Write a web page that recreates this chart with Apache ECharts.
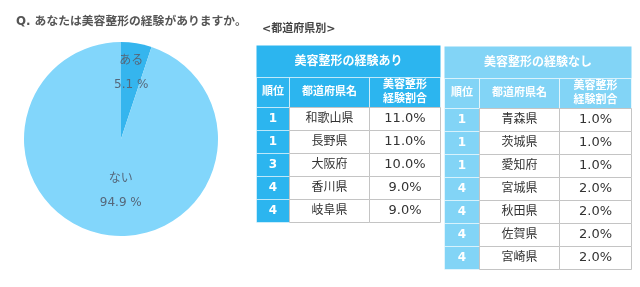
<!DOCTYPE html>
<html>
<head>
<meta charset="utf-8">
<script src="https://cdn.jsdelivr.net/npm/echarts@6/dist/echarts.min.js"></script>
<style>
  html, body { margin: 0; padding: 0; background: #fff; }
  #main { width: 640px; height: 287px; }
</style>
</head>
<body>
<div id="main"></div>
<script>
// pie data
var pieNames = ['ある', 'ない'];
var pieValues = [5.1, 94.9];

// table data
var headCols = ['順位', '都道府県名', '美容整形\n経験割合'];
var yesRanks = [1, 1, 3, 4, 4];
var yesPrefs = ['和歌山県', '長野県', '大阪府', '香川県', '岐阜県'];
var yesRates = [11.0, 11.0, 10.0, 9.0, 9.0];
var noRanks = [1, 1, 1, 4, 4, 4, 4];
var noPrefs = ['青森県', '茨城県', '愛知府', '宮城県', '秋田県', '佐賀県', '宮崎県'];
var noRates = [1.0, 1.0, 1.0, 2.0, 2.0, 2.0, 2.0];

var JP = "'DejaVu Sans','Noto Sans CJK JP'";

function makeTable(x, y, colW, title, headColor, ranks, prefs, rates) {
    var els = [];
    var titleH = 32, headH = 30, rowH = 23;
    var totalW = colW[0] + colW[1] + colW[2];
    // title row
    els.push({ type: 'rect', shape: { x: x, y: y, width: totalW, height: titleH },
        style: { fill: headColor } });
    els.push({ type: 'text', x: x + totalW / 2, y: y + titleH / 2,
        style: { text: title, fill: '#fff', font: 'bold 12px ' + JP, align: 'center', verticalAlign: 'middle' } });
    // header row
    var cx = x;
    for (var i = 0; i < 3; i++) {
        els.push({ type: 'rect', shape: { x: cx, y: y + titleH, width: colW[i], height: headH },
            style: { fill: headColor, stroke: 'rgba(255,255,255,0.6)', lineWidth: 1 } });
        els.push({ type: 'text', x: cx + colW[i] / 2, y: y + titleH + headH / 2,
            style: { text: headCols[i], fill: '#fff', font: 'bold 11px ' + JP, align: 'center',
                verticalAlign: 'middle', lineHeight: 14 } });
        cx += colW[i];
    }
    // data rows
    var top = y + titleH + headH;
    for (var r = 0; r < ranks.length; r++) {
        var ry = top + r * rowH;
        els.push({ type: 'rect', shape: { x: x, y: ry, width: colW[0], height: rowH },
            style: { fill: headColor, stroke: 'rgba(255,255,255,0.5)', lineWidth: 1 } });
        els.push({ type: 'text', x: x + colW[0] / 2, y: ry + rowH / 2,
            style: { text: String(ranks[r]), fill: '#fff', font: 'bold 12px ' + JP, align: 'center', verticalAlign: 'middle' } });
        els.push({ type: 'rect', shape: { x: x + colW[0], y: ry, width: colW[1], height: rowH },
            style: { fill: '#fff', stroke: '#c4c4c4', lineWidth: 1 } });
        els.push({ type: 'text', x: x + colW[0] + colW[1] / 2, y: ry + rowH / 2,
            style: { text: prefs[r], fill: '#333', font: '12px ' + JP, align: 'center', verticalAlign: 'middle' } });
        els.push({ type: 'rect', shape: { x: x + colW[0] + colW[1], y: ry, width: colW[2], height: rowH },
            style: { fill: '#fff', stroke: '#c4c4c4', lineWidth: 1 } });
        els.push({ type: 'text', x: x + colW[0] + colW[1] + colW[2] / 2, y: ry + rowH / 2,
            style: { text: rates[r].toFixed(1) + '%', fill: '#333', font: '13px ' + JP, align: 'center', verticalAlign: 'middle' } });
    }
    return els;
}

var graphics = [];
graphics.push({ type: 'text', left: 16, top: 16,
    style: { text: 'Q. あなたは美容整形の経験がありますか。', fill: '#555', font: 'bold 11.8px ' + JP } });
graphics.push({ type: 'text', left: 262, top: 24,
    style: { text: '<都道府県別>', fill: '#444', font: 'bold 11px ' + JP } });
graphics = graphics.concat(makeTable(256.5, 45.5, [33, 80, 71], '美容整形の経験あり', '#2cb5ef', yesRanks, yesPrefs, yesRates));
graphics = graphics.concat(makeTable(444.5, 46.5, [35, 80, 72], '美容整形の経験なし', '#82d4f6', noRanks, noPrefs, noRates));

var myChart = echarts.init(document.getElementById('main'));
myChart.setOption({
    backgroundColor: '#fff',
    animation: false,
    graphic: graphics,
    series: [{
        type: 'pie',
        center: [121, 139],
        radius: 97,
        startAngle: 90,
        clockwise: true,
        color: ['#35b5ee', '#82d6fb'],
        label: {
            show: true,
            position: 'inside',
            formatter: '{b}\n{c} %',
            color: '#56677a',
            fontSize: 12,
            lineHeight: 24,
            align: 'center',
            fontFamily: JP
        },
        labelLine: { show: false },
        itemStyle: { borderWidth: 0 },
        data: pieNames.map(function (n, i) {
            var d = { name: n, value: pieValues[i] };
            d.label = { offset: i === 0 ? [2, -15] : [8, 1] };
            return d;
        })
    }]
});
</script>
</body>
</html>
